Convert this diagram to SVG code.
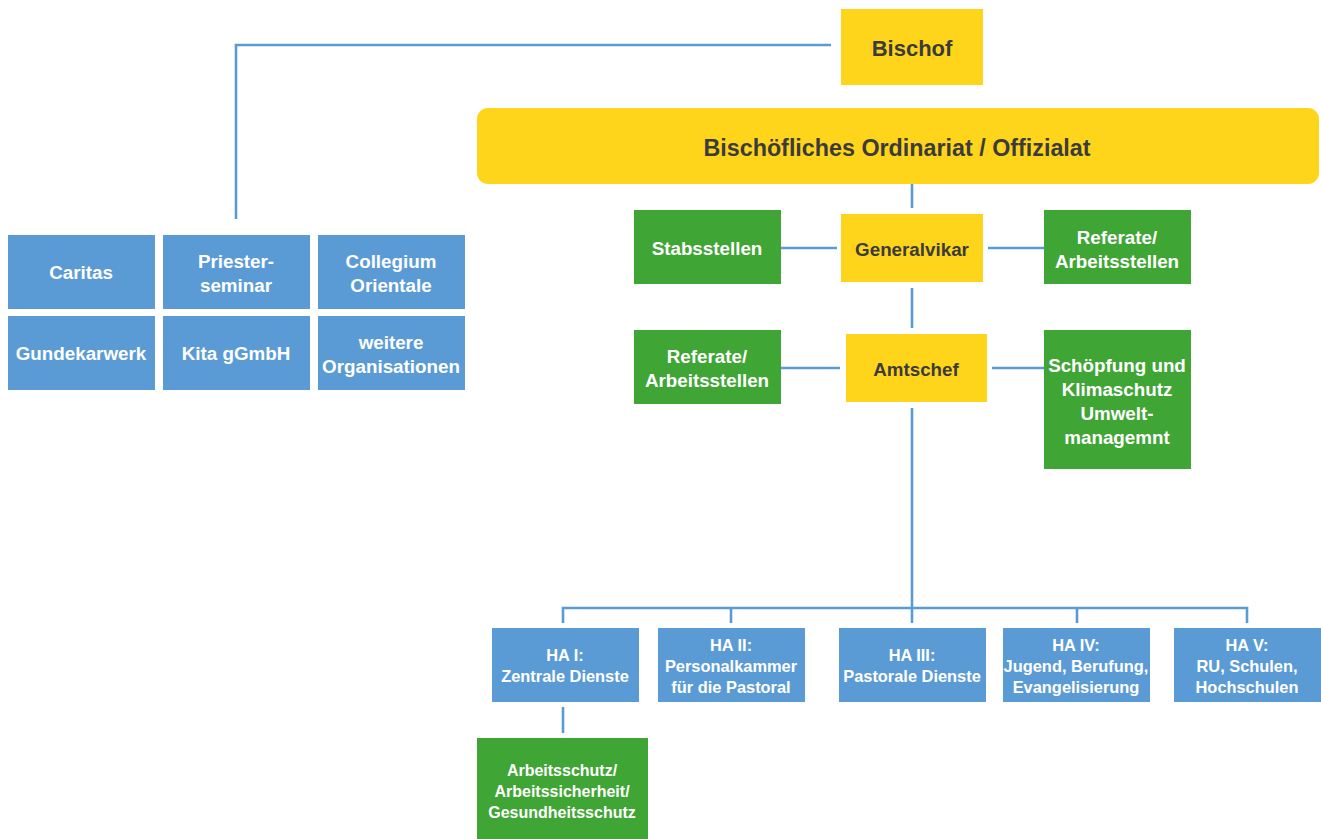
<svg xmlns="http://www.w3.org/2000/svg" width="1321" height="839" viewBox="0 0 1321 839">
<style>
text{font-family:"Liberation Sans",Arial,sans-serif;font-weight:bold;text-anchor:middle;dominant-baseline:central}
.y{fill:#ffd51c}
.b{fill:#5b9bd5}
.g{fill:#3fa535}
.ty{fill:#3b3b3b}
.tw{fill:#ffffff}
.s18{font-size:18.8px}
.s16{font-size:16.4px}
.s15{font-size:16px}
.c{stroke:#5b9bd5;stroke-width:2.6;fill:none}
</style>
<rect width="1321" height="839" fill="#ffffff"/>
<g id="connectors">
<path class="c" d="M831 45H236V219"/>
<path class="c" d="M912 184V208"/>
<path class="c" d="M781 248H837M988 248H1044"/>
<path class="c" d="M912 288V328"/>
<path class="c" d="M781 368H840M992 368H1044"/>
<path class="c" d="M912 408V608"/>
<path class="c" d="M563 623V608H1247V623M731 608V623M912 608V623M1077 608V623"/>
<path class="c" d="M563 707V733"/>
</g>
<g id="bischof"><rect class="y" x="841" y="9" width="142" height="76"/><text class="ty" x="912" y="48" font-size="22">Bischof</text></g>
<g id="ordinariat"><rect class="y" x="477" y="108" width="842" height="76" rx="11"/><text class="ty" x="897" y="148" font-size="23.3">Bischöfliches Ordinariat / Offizialat</text></g>
<g id="caritas"><rect class="b" x="8" y="235" width="147" height="74"/><text class="tw s18" x="81" y="272">Caritas</text></g>
<g id="priesterseminar"><rect class="b" x="163" y="235" width="147" height="74"/><text class="tw s18" x="236" y="261">Priester-</text><text class="tw s18" x="236" y="285">seminar</text></g>
<g id="collegium"><rect class="b" x="318" y="235" width="147" height="74"/><text class="tw s18" x="391" y="261">Collegium</text><text class="tw s18" x="391" y="285">Orientale</text></g>
<g id="gundekarwerk"><rect class="b" x="8" y="316" width="147" height="74"/><text class="tw s18" x="81" y="353">Gundekarwerk</text></g>
<g id="kita"><rect class="b" x="163" y="316" width="147" height="74"/><text class="tw s18" x="236" y="353">Kita gGmbH</text></g>
<g id="weitere"><rect class="b" x="318" y="316" width="147" height="74"/><text class="tw s18" x="391" y="342">weitere</text><text class="tw s18" x="391" y="366">Organisationen</text></g>
<g id="stabsstellen"><rect class="g" x="634" y="210" width="147" height="74"/><text class="tw s18" x="707" y="248">Stabsstellen</text></g>
<g id="generalvikar"><rect class="y" x="841" y="214" width="142" height="68"/><text class="ty s18" x="912" y="249">Generalvikar</text></g>
<g id="referate1"><rect class="g" x="1044" y="210" width="147" height="74"/><text class="tw s18" x="1117" y="237">Referate/</text><text class="tw s18" x="1117" y="261">Arbeitsstellen</text></g>
<g id="referate2"><rect class="g" x="634" y="330" width="147" height="74"/><text class="tw s18" x="707" y="356">Referate/</text><text class="tw s18" x="707" y="380">Arbeitsstellen</text></g>
<g id="amtschef"><rect class="y" x="846" y="334" width="141" height="68"/><text class="ty s18" x="916" y="369">Amtschef</text></g>
<g id="schoepfung"><rect class="g" x="1044" y="330" width="147" height="139"/><text class="tw s18" x="1117" y="365">Schöpfung und</text><text class="tw s18" x="1117" y="389">Klimaschutz</text><text class="tw s18" x="1117" y="413">Umwelt-</text><text class="tw s18" x="1117" y="437">managemnt</text></g>
<g id="ha1"><rect class="b" x="492" y="628" width="147" height="74"/><text class="tw s16" x="565" y="655">HA I:</text><text class="tw s16" x="565" y="676">Zentrale Dienste</text></g>
<g id="ha2"><rect class="b" x="658" y="628" width="147" height="74"/><text class="tw s16" x="731" y="645">HA II:</text><text class="tw s16" x="731" y="666">Personalkammer</text><text class="tw s16" x="731" y="687">für die Pastoral</text></g>
<g id="ha3"><rect class="b" x="839" y="628" width="147" height="74"/><text class="tw s16" x="912" y="655">HA III:</text><text class="tw s16" x="912" y="676">Pastorale Dienste</text></g>
<g id="ha4"><rect class="b" x="1003" y="628" width="147" height="74"/><text class="tw s16" x="1076" y="645">HA IV:</text><text class="tw s16" x="1076" y="666">Jugend, Berufung,</text><text class="tw s16" x="1076" y="687">Evangelisierung</text></g>
<g id="ha5"><rect class="b" x="1174" y="628" width="147" height="74"/><text class="tw s16" x="1247" y="645">HA V:</text><text class="tw s16" x="1247" y="666">RU, Schulen,</text><text class="tw s16" x="1247" y="687">Hochschulen</text></g>
<g id="arbeitsschutz"><rect class="g" x="477" y="738" width="171" height="101"/><text class="tw s15" x="562" y="770">Arbeitsschutz/</text><text class="tw s15" x="562" y="791">Arbeitssicherheit/</text><text class="tw s15" x="562" y="812">Gesundheitsschutz</text></g>
</svg>
